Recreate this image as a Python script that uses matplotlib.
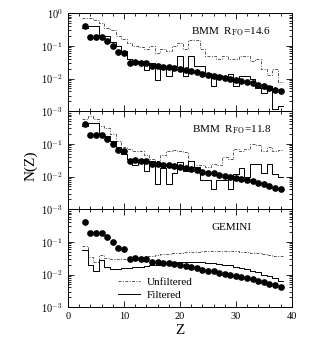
import numpy as np
import matplotlib
matplotlib.use("Agg")
import matplotlib.pyplot as plt
from matplotlib.ticker import LogLocator, MultipleLocator, FixedLocator, NullFormatter

plt.rcParams['font.family'] = ['Liberation Serif', 'DejaVu Serif']
plt.rcParams['mathtext.fontset'] = 'cm'

Z = list(range(3, 39))

abundance = [0.40, 0.19, 0.19, 0.19, 0.14, 0.10, 0.067, 0.060, 0.031, 0.032,
             0.029, 0.030, 0.024, 0.024, 0.022, 0.022, 0.021, 0.019, 0.018, 0.017,
             0.016, 0.014, 0.013, 0.0124, 0.0113, 0.0105, 0.0098, 0.0089, 0.0083, 0.0078,
             0.0071, 0.0065, 0.0059, 0.0052, 0.0046, 0.0040]

bmm146_unf = [0.7, 0.75, 0.65, 0.5, 0.35, 0.3, 0.2, 0.17, 0.12, 0.1,
              0.09, 0.08, 0.1, 0.06, 0.08, 0.07, 0.1, 0.12, 0.08, 0.15,
              0.15, 0.08, 0.05, 0.05, 0.04, 0.05, 0.04, 0.04, 0.05, 0.05,
              0.035, 0.04, 0.02, 0.013, 0.02, 0.008]
bmm146_fil = [0.35, 0.42, 0.42, 0.2, 0.2, 0.13, 0.1, 0.07, 0.04, 0.035,
              0.03, 0.018, 0.03, 0.009, 0.025, 0.012, 0.025, 0.05, 0.012, 0.05,
              0.025, 0.025, 0.015, 0.006, 0.013, 0.012, 0.014, 0.006, 0.012, 0.012,
              0.01, 0.005, 0.0035, 0.006, 0.0012, 0.0014]

bmm118_unf = [0.6, 0.7, 0.6, 0.35, 0.3, 0.2, 0.12, 0.08, 0.07, 0.06,
              0.06, 0.045, 0.035, 0.03, 0.045, 0.06, 0.065, 0.06, 0.055, 0.03,
              0.022, 0.022, 0.02, 0.025, 0.022, 0.04, 0.035, 0.07, 0.06, 0.07,
              0.1, 0.09, 0.06, 0.08, 0.06, 0.065]
bmm118_fil = [0.35, 0.45, 0.45, 0.2, 0.17, 0.12, 0.08, 0.05, 0.035, 0.022,
              0.03, 0.015, 0.03, 0.006, 0.018, 0.006, 0.013, 0.028, 0.015, 0.03,
              0.02, 0.008, 0.008, 0.004, 0.008, 0.008, 0.004, 0.012, 0.018, 0.01,
              0.025, 0.025, 0.013, 0.025, 0.012, 0.01]

gem_unf = [0.075, 0.035, 0.025, 0.04, 0.032, 0.03, 0.029, 0.03, 0.031, 0.032,
           0.034, 0.036, 0.038, 0.04, 0.042, 0.044, 0.045, 0.047, 0.048, 0.049,
           0.05, 0.051, 0.052, 0.052, 0.053, 0.053, 0.052, 0.051, 0.05, 0.049,
           0.047, 0.045, 0.043, 0.04, 0.038, 0.036]
gem_fil = [0.055, 0.02, 0.013, 0.027, 0.017, 0.015, 0.015, 0.016, 0.016, 0.017,
           0.017, 0.018, 0.019, 0.02, 0.021, 0.022, 0.023, 0.024, 0.025, 0.025,
           0.025, 0.024, 0.023, 0.022, 0.021, 0.02, 0.019, 0.017, 0.016, 0.015,
           0.013, 0.012, 0.01, 0.009, 0.008, 0.0065]

panels = [
    (r"BMM  R$_{\rm FO}$=14.6", bmm146_unf, bmm146_fil),
    (r"BMM  R$_{\rm FO}$=11.8", bmm118_unf, bmm118_fil),
    ("GEMINI", gem_unf, gem_fil),
]

fig = plt.figure(figsize=(3.19, 3.45), dpi=100)
left, width = 0.213, 0.702
bottoms = [0.678, 0.394, 0.110]
height = 0.283

def step_xy(zs, vals):
    edges = [z - 0.5 for z in zs] + [zs[-1] + 0.5]
    return edges, [vals[0]] + list(vals)

dashdot = (0, (3, 1.5, 1, 1.5))
axes = []
for i, (label, unf, fil) in enumerate(panels):
    ax = fig.add_axes([left, bottoms[i], width, height])
    axes.append(ax)
    ex, ey = step_xy(Z, unf)
    ax.step(ex, ey, where='pre', color='#555555', lw=0.7, ls=dashdot,
            label='Unfiltered')
    fx, fy = step_xy(Z, fil)
    ax.step(fx, fy, where='pre', color='black', lw=0.7, label='Filtered')
    ax.plot(Z, abundance, 'o', color='black', ms=3.8, mec='black')
    ax.set_yscale('log')
    ax.set_xlim(0, 40)
    ax.set_ylim(1e-3, 1)
    ax.yaxis.set_major_locator(FixedLocator([1e-3, 1e-2, 1e-1, 1]))
    ax.yaxis.set_minor_locator(LogLocator(base=10, subs=np.arange(2, 10), numticks=10))
    ax.yaxis.set_minor_formatter(NullFormatter())
    ax.xaxis.set_major_locator(MultipleLocator(10))
    ax.xaxis.set_minor_locator(MultipleLocator(2))
    ax.tick_params(which='both', direction='in', top=True, right=True, labelsize=7.5,
                   width=0.6)
    ax.tick_params(which='major', length=4)
    ax.tick_params(which='minor', length=2)
    for s in ax.spines.values():
        s.set_linewidth(0.7)
    if i == 0:
        ax.set_yticklabels([r'$10^{-3}$', r'$10^{-2}$', r'$10^{-1}$', r'$10^{0}$'])
    else:
        ax.set_yticklabels([r'$10^{-3}$', r'$10^{-2}$', r'$10^{-1}$', ''])
    if i < 2:
        ax.tick_params(labelbottom=False)
    ax.text(0.73, 0.81, label, transform=ax.transAxes, ha='center', va='center',
            fontsize=8)

axes[2].legend(loc='lower left', bbox_to_anchor=(0.18, -0.03), frameon=False,
               fontsize=8, handlelength=2.0, handletextpad=0.6, labelspacing=0.3)
axes[2].set_xlabel('Z', fontsize=11, labelpad=2)
fig.text(0.095, 0.52, 'N(Z)', rotation=90, ha='center', va='center', fontsize=11)

fig.savefig('out.png', dpi=100)
